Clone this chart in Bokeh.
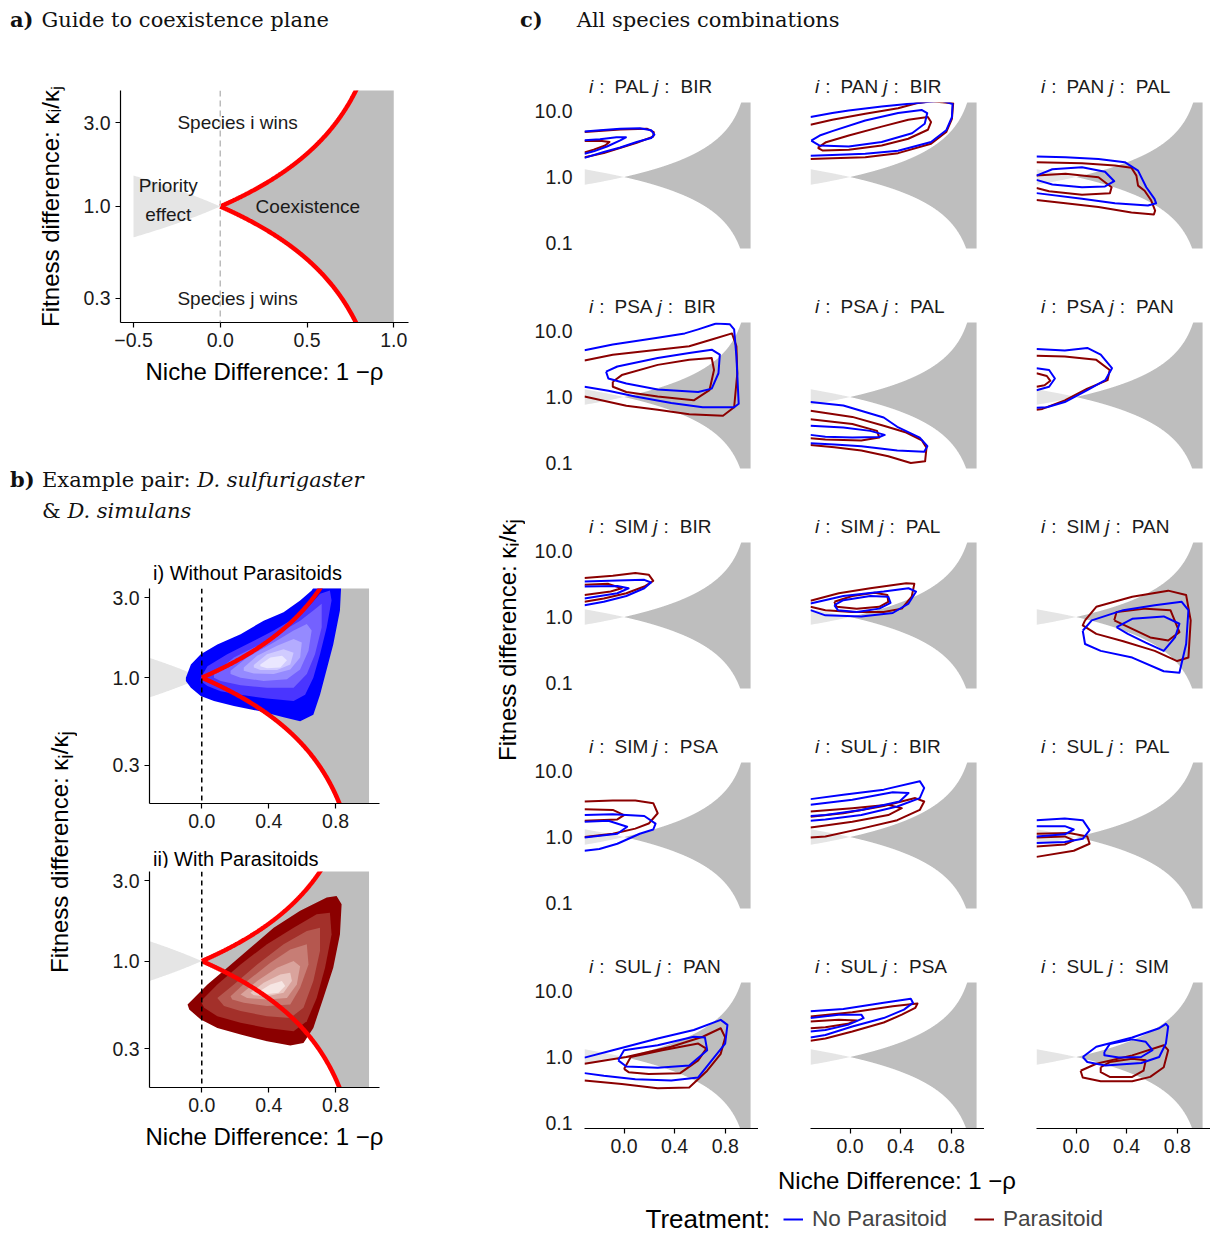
import numpy as np
from bokeh.plotting import figure
from bokeh.models import (Range1d, FixedTicker, CustomJSTickFormatter, Label, Div,
                          Legend, LegendItem, Span, Spacer)
from bokeh.layouts import row, column
from bokeh.core.properties import value
from bokeh.embed import file_html
from bokeh.resources import INLINE

SANS = "Liberation Sans"
TICK_FS = "19.5px"
AXT_FS = "24px"
BLUE = "#0000FF"
DRED = "#8B0000"
GREY = "#BEBEBE"
LIGHT = "#E5E5E5"

# ------------------------------------------------------------------ data
# theoretical coexistence boundary: rho < k_i/k_j < 1/rho with niche difference 1-rho
niche_grid = np.linspace(0.0, 1.0, 401)

# panel a annotations
GUIDE_LABELS = ["Species i wins", "Species j wins", "Priority", "effect", "Coexistence"]
GUIDE_X = [0.10, 0.10, -0.30, -0.30, 0.505]
GUIDE_Y = [3.0, 0.3, 1.31, 0.905, 1.0]

# panel b: density levels (outermost first), D. sulfurigaster vs D. simulans
BLUE_LEVELS_X = [
    [-0.095, -0.065, -0.006, 0.093, 0.232, 0.37, 0.489, 0.588, 0.657, 0.707, 0.836, 0.826, 0.786, 0.707, 0.667, 0.588, 0.489, 0.35, 0.192, 0.073, -0.006, -0.065, -0.095],
    [-0.006, 0.034, 0.152, 0.291, 0.43, 0.529, 0.628, 0.707, 0.766, 0.776, 0.747, 0.707, 0.667, 0.618, 0.549, 0.39, 0.232, 0.113, 0.034, -0.006],
    [0.073, 0.192, 0.35, 0.489, 0.588, 0.667, 0.717, 0.717, 0.677, 0.628, 0.549, 0.39, 0.232, 0.113, 0.073],
    [0.172, 0.271, 0.43, 0.549, 0.628, 0.657, 0.638, 0.588, 0.509, 0.37, 0.232, 0.172],
    [0.251, 0.331, 0.45, 0.549, 0.598, 0.588, 0.529, 0.43, 0.311, 0.251],
    [0.311, 0.39, 0.489, 0.549, 0.529, 0.45, 0.35, 0.311],
    [0.35, 0.41, 0.48, 0.509, 0.47, 0.39, 0.35],
]
BLUE_LEVELS_Y = [
    [1.0, 1.20, 1.38, 1.58, 1.82, 2.19, 2.46, 2.89, 3.32, 3.98, 3.98, 2.52, 1.58, 0.79, 0.60, 0.548, 0.58, 0.63, 0.676, 0.724, 0.776, 0.87, 0.955],
    [1.0, 1.17, 1.38, 1.62, 1.91, 2.19, 2.58, 3.17, 3.32, 2.89, 2.0, 1.38, 1.0, 0.79, 0.724, 0.75, 0.79, 0.83, 0.89, 0.955],
    [1.05, 1.32, 1.58, 1.91, 2.19, 2.52, 2.76, 2.0, 1.38, 1.05, 0.87, 0.87, 0.90, 0.955, 1.0],
    [1.10, 1.32, 1.62, 1.91, 2.09, 1.91, 1.45, 1.12, 0.977, 0.955, 1.0, 1.05],
    [1.15, 1.35, 1.55, 1.70, 1.62, 1.32, 1.12, 1.05, 1.06, 1.10],
    [1.19, 1.38, 1.48, 1.41, 1.20, 1.11, 1.11, 1.15],
    [1.20, 1.32, 1.35, 1.27, 1.15, 1.14, 1.17],
]
RED_LEVELS_X = [
    [-0.085, -0.046, 0.034, 0.152, 0.291, 0.43, 0.588, 0.747, 0.806, 0.836, 0.826, 0.786, 0.727, 0.667, 0.608, 0.529, 0.39, 0.232, 0.093, -0.006, -0.075, -0.085],
    [-0.006, 0.093, 0.232, 0.39, 0.549, 0.687, 0.766, 0.776, 0.737, 0.687, 0.628, 0.549, 0.39, 0.232, 0.093, 0.014, -0.006],
    [0.093, 0.192, 0.331, 0.489, 0.628, 0.707, 0.707, 0.667, 0.608, 0.529, 0.39, 0.232, 0.133, 0.093],
    [0.172, 0.271, 0.41, 0.529, 0.628, 0.638, 0.588, 0.529, 0.39, 0.251, 0.182, 0.172],
    [0.232, 0.331, 0.45, 0.549, 0.588, 0.568, 0.509, 0.39, 0.271, 0.232],
    [0.291, 0.37, 0.469, 0.529, 0.539, 0.489, 0.39, 0.311, 0.291],
    [0.331, 0.41, 0.479, 0.499, 0.459, 0.37, 0.331],
]
RED_LEVELS_Y = [
    [0.552, 0.604, 0.726, 0.912, 1.20, 1.58, 1.99, 2.39, 2.44, 2.18, 1.44, 0.912, 0.604, 0.40, 0.326, 0.315, 0.333, 0.366, 0.40, 0.449, 0.515, 0.552],
    [0.577, 0.726, 0.955, 1.26, 1.58, 1.90, 1.94, 1.44, 0.912, 0.604, 0.439, 0.383, 0.40, 0.429, 0.47, 0.527, 0.577],
    [0.604, 0.726, 0.955, 1.26, 1.51, 1.58, 1.15, 0.76, 0.527, 0.459, 0.47, 0.504, 0.54, 0.604],
    [0.618, 0.76, 0.977, 1.17, 1.26, 0.955, 0.693, 0.552, 0.54, 0.565, 0.59, 0.618],
    [0.632, 0.76, 0.912, 1.0, 0.933, 0.726, 0.604, 0.59, 0.604, 0.632],
    [0.647, 0.743, 0.832, 0.851, 0.76, 0.647, 0.618, 0.627, 0.647],
    [0.647, 0.726, 0.76, 0.71, 0.647, 0.632, 0.647],
]
BLUE_FILLS = ["#0000FF", "#4A35FF", "#7461FF", "#958AFF", "#B4ACFF", "#D0CBFF", "#EAE7FF"]
RED_FILLS = ["#8B0000", "#A3302A", "#B5574F", "#C77D75", "#D9A39C", "#E9C7C2", "#F6E6E3"]

# panel c: species pairs
PAIR_I = ["PAL", "PAN", "PAN", "PSA", "PSA", "PSA", "SIM", "SIM", "SIM", "SIM", "SUL", "SUL", "SUL", "SUL", "SUL"]
PAIR_J = ["BIR", "BIR", "PAL", "BIR", "PAL", "PAN", "BIR", "PAL", "PAN", "PSA", "BIR", "PAL", "PAN", "PSA", "SIM"]

# density contours (outer, inner) per pair: No Parasitoid (blue) and Parasitoid (red)
PAL_BIR_NOPAR = [([-0.3125, -0.19, -0.03, 0.125, 0.215, 0.24, 0.215, 0.10, -0.03, -0.16, -0.3125],
                  [4.9, 5.1, 5.4, 5.5, 5.1, 4.4, 3.9, 3.4, 2.8, 2.4, 1.95]),
                 ([-0.3125, -0.19, -0.06, 0.015, -0.03, -0.135, -0.24, -0.3125],
                  [3.6, 3.75, 4.0, 4.0, 3.6, 2.9, 2.45, 2.25])]
PAL_BIR_PAR = [([-0.3125, -0.03, 0.18, 0.235, 0.23, 0.10, -0.16, -0.3125],
                [4.8, 5.25, 5.4, 4.8, 4.1, 3.3, 2.3, 2.0]),
               ([-0.3125, -0.19, -0.115, -0.15, -0.24, -0.3125],
                [3.5, 3.55, 3.4, 3.0, 2.6, 2.35])]
PAN_BIR_NOPAR = [([-0.3125, -0.14, -0.01, 0.25, 0.51, 0.72, 0.81, 0.805, 0.76, 0.64, 0.38, 0.12, -0.14, -0.3125],
                  [8.1, 9.3, 10.2, 11.7, 13.1, 14.4, 12.8, 8.1, 5.1, 3.4, 2.5, 2.25, 2.15, 2.1]),
                 ([-0.307, -0.24, -0.14, 0.12, 0.38, 0.565, 0.61, 0.59, 0.49, 0.25, -0.01, -0.24, -0.307],
                  [3.55, 4.25, 4.95, 7.2, 9.3, 10.4, 9.3, 6.4, 4.6, 3.4, 2.9, 3.0, 3.55])]
PAN_BIR_PAR = [([-0.3125, -0.14, 0.12, 0.38, 0.525, 0.64, 0.815, 0.805, 0.76, 0.64, 0.38, 0.12, -0.14, -0.3125],
                [6.2, 7.35, 9.1, 11.0, 13.1, 14.1, 13.1, 7.6, 4.8, 3.2, 2.3, 2.0, 1.93, 1.88]),
               ([-0.255, -0.19, -0.01, 0.25, 0.46, 0.615, 0.64, 0.615, 0.46, 0.25, -0.01, -0.215, -0.255],
                [2.77, 3.37, 4.26, 5.8, 7.35, 8.1, 6.8, 5.2, 3.8, 3.0, 2.58, 2.52, 2.77])]
PAN_PAL_NOPAR = [([-0.3125, -0.083, 0.177, 0.385, 0.49, 0.555, 0.62, 0.633, 0.568, 0.307, 0.047, -0.3125],
                  [2.05, 2.0, 1.88, 1.68, 1.25, 0.70, 0.467, 0.40, 0.37, 0.40, 0.467, 0.57]),
                 ([-0.3125, -0.1875, 0.047, 0.229, 0.302, 0.229, 0.047, -0.1875, -0.3125],
                  [1.05, 1.31, 1.41, 1.20, 0.865, 0.72, 0.70, 0.77, 0.905])]
PAN_PAL_PAR = [([-0.3125, 0.047, 0.307, 0.4375, 0.477, 0.49, 0.542, 0.594, 0.625, 0.615, 0.4375, 0.177, -0.083, -0.3125],
                [1.68, 1.62, 1.49, 1.38, 1.05, 0.74, 0.62, 0.44, 0.31, 0.27, 0.29, 0.35, 0.40, 0.45]),
               ([-0.3125, -0.083, 0.177, 0.281, 0.268, 0.047, -0.213, -0.3125],
                [1.05, 1.12, 0.99, 0.70, 0.57, 0.54, 0.61, 0.68])]
PSA_BIR_NOPAR = [([-0.3125, -0.089, 0.266, 0.48, 0.586, 0.728, 0.835, 0.87, 0.888, 0.906, 0.87, 0.622, 0.373, 0.089, -0.124, -0.3125],
                  [5.1, 6.24, 7.89, 9.2, 10.6, 13.0, 12.7, 10.6, 4.12, 0.79, 0.70, 0.70, 0.81, 1.02, 1.24, 1.43]),
                 ([-0.142, -0.053, 0.266, 0.515, 0.693, 0.757, 0.746, 0.693, 0.586, 0.266, 0.018, -0.124, -0.142],
                  [2.43, 2.90, 3.89, 4.64, 5.22, 4.38, 2.29, 1.34, 1.19, 1.30, 1.60, 1.91, 2.43])]
PSA_BIR_PAR = [([-0.3125, -0.089, 0.266, 0.515, 0.693, 0.853, 0.888, 0.895, 0.87, 0.782, 0.515, 0.266, 0.018, -0.3125],
                [3.58, 4.38, 5.22, 5.88, 7.45, 9.2, 5.88, 2.29, 0.70, 0.52, 0.55, 0.64, 0.74, 1.02]),
               ([-0.089, -0.018, 0.266, 0.515, 0.693, 0.711, 0.675, 0.551, 0.266, 0.018, -0.089, -0.089],
                [1.70, 2.15, 3.07, 3.66, 3.89, 2.57, 1.27, 0.89, 1.02, 1.19, 1.43, 1.70])]
PSA_PAL_NOPAR = [([-0.3125, -0.053, 0.266, 0.373, 0.551, 0.611, 0.586, 0.373, 0.089, -0.124, -0.3125],
                  [0.84, 0.745, 0.49, 0.354, 0.243, 0.18, 0.148, 0.155, 0.18, 0.19, 0.20]),
                 ([-0.3125, -0.053, 0.16, 0.274, 0.231, 0.018, -0.195, -0.3125],
                  [0.367, 0.345, 0.307, 0.267, 0.248, 0.243, 0.251, 0.267])]
PSA_PAL_PAR = [([-0.3125, 0.018, 0.266, 0.444, 0.568, 0.604, 0.593, 0.48, 0.302, 0.089, -0.124, -0.3125],
                [0.62, 0.50, 0.367, 0.29, 0.22, 0.17, 0.106, 0.10, 0.127, 0.155, 0.174, 0.187]),
               ([-0.3125, 0.018, 0.213, 0.231, 0.089, -0.195, -0.3125],
                [0.46, 0.39, 0.307, 0.243, 0.22, 0.228, 0.237])]
PSA_PAN_NOPAR = [([-0.3125, -0.089, 0.089, 0.195, 0.284, 0.231, 0.089, -0.089, -0.231, -0.3125],
                  [5.35, 5.05, 5.54, 4.38, 2.73, 1.80, 1.27, 0.84, 0.70, 0.685]),
                 ([-0.3125, -0.213, -0.167, -0.213, -0.3125],
                  [2.73, 2.57, 1.91, 1.43, 1.27])]
PSA_PAN_PAR = [([-0.3125, -0.089, 0.16, 0.266, 0.249, 0.089, -0.089, -0.266, -0.3125],
                [4.23, 4.12, 3.66, 2.57, 1.80, 1.34, 0.89, 0.66, 0.64]),
               ([-0.3125, -0.231, -0.203, -0.249, -0.3125],
                [2.29, 2.08, 1.76, 1.51, 1.43])]
SIM_BIR_NOPAR = [([-0.3125, -0.053, 0.16, 0.213, 0.16, 0.018, -0.16, -0.3125],
                  [3.45, 3.58, 3.66, 3.33, 2.73, 2.08, 1.70, 1.51]),
                 ([-0.3125, -0.053, 0.036, -0.053, -0.3125],
                  [2.90, 2.96, 2.73, 2.29, 1.91])]
SIM_BIR_PAR = [([-0.3125, -0.089, 0.089, 0.195, 0.231, 0.16, 0.018, -0.16, -0.3125],
                [3.89, 4.23, 4.64, 4.38, 3.54, 2.90, 2.29, 1.91, 1.70]),
               ([-0.3125, -0.124, -0.018, -0.106, -0.3125],
                [3.07, 3.18, 2.73, 2.43, 2.15])]
SIM_PAL_NOPAR = [([-0.3125, -0.053, 0.266, 0.462, 0.522, 0.462, 0.337, 0.089, -0.195, -0.3125],
                  [1.60, 2.08, 2.43, 2.73, 2.43, 1.60, 1.15, 1.02, 1.06, 1.27]),
                 ([-0.124, -0.053, 0.16, 0.302, 0.32, 0.231, 0.053, -0.096, -0.124],
                  [1.51, 1.80, 2.08, 2.03, 1.64, 1.34, 1.19, 1.27, 1.51])]
SIM_PAL_PAR = [([-0.3125, -0.089, 0.16, 0.444, 0.508, 0.487, 0.409, 0.266, 0.018, -0.195, -0.3125],
                [1.76, 2.29, 2.73, 3.26, 3.18, 2.03, 1.34, 1.19, 1.19, 1.27, 1.43]),
               ([-0.124, 0.018, 0.195, 0.295, 0.302, 0.231, 0.053, -0.106, -0.124],
                [1.70, 2.08, 2.34, 2.15, 1.70, 1.43, 1.34, 1.43, 1.70])]
SIM_PAN_NOPAR = [([0.053, 0.124, 0.373, 0.622, 0.835, 0.888, 0.87, 0.817, 0.693, 0.444, 0.195, 0.071, 0.053],
                  [0.62, 0.89, 1.27, 1.51, 1.70, 1.27, 0.39, 0.143, 0.151, 0.243, 0.307, 0.39, 0.62]),
                 ([0.32, 0.444, 0.693, 0.817, 0.782, 0.693, 0.55, 0.409, 0.32],
                  [0.70, 0.94, 1.02, 0.79, 0.49, 0.307, 0.41, 0.555, 0.70])]
SIM_PAN_PAR = [([0.071, 0.16, 0.444, 0.728, 0.87, 0.906, 0.888, 0.799, 0.622, 0.373, 0.16, 0.053, 0.071],
                [0.89, 1.43, 2.03, 2.51, 2.15, 0.89, 0.243, 0.215, 0.307, 0.43, 0.555, 0.745, 0.89]),
               ([0.302, 0.32, 0.55, 0.746, 0.817, 0.728, 0.586, 0.444, 0.302],
                [0.89, 1.19, 1.34, 1.27, 0.59, 0.44, 0.49, 0.66, 0.89])]
SIM_PSA_NOPAR = [([-0.3125, -0.089, 0.16, 0.249, 0.231, 0.124, -0.053, -0.195, -0.3125],
                  [2.15, 2.21, 2.08, 1.60, 1.30, 1.12, 0.79, 0.66, 0.62]),
                 ([-0.3125, -0.124, 0.025, -0.053, -0.3125],
                  [1.70, 1.76, 1.43, 1.12, 0.98])]
SIM_PSA_PAR = [([-0.3125, -0.089, 0.089, 0.231, 0.266, 0.195, 0.089, -0.089, -0.3125],
                [3.45, 3.58, 3.58, 3.26, 2.29, 1.60, 1.34, 1.12, 1.0]),
               ([-0.3125, -0.089, 0.0, -0.053, -0.3125],
                [2.64, 2.57, 2.15, 1.85, 1.76])]
SUL_BIR_NOPAR = [([-0.3125, -0.053, 0.266, 0.551, 0.586, 0.551, 0.373, 0.089, -0.195, -0.3125],
                  [3.75, 4.38, 5.22, 7.02, 5.54, 3.89, 2.90, 2.15, 1.85, 1.76]),
                 ([-0.3125, 0.018, 0.337, 0.462, 0.391, 0.089, -0.195, -0.3125],
                  [3.07, 3.66, 4.75, 4.64, 3.45, 2.57, 2.15, 2.08])]
SUL_BIR_PAR = [([-0.3125, -0.053, 0.266, 0.515, 0.586, 0.551, 0.373, 0.089, -0.195, -0.3125],
                [2.03, 2.29, 2.96, 3.89, 3.45, 2.57, 1.80, 1.34, 1.02, 0.98]),
               ([-0.3125, 0.018, 0.302, 0.409, 0.302, 0.018, -0.266, -0.3125],
                [2.43, 2.73, 3.07, 2.73, 2.15, 1.70, 1.43, 1.39])]
SUL_PAL_NOPAR = [([-0.3125, -0.089, 0.053, 0.107, 0.053, -0.089, -0.3125],
                  [1.80, 1.91, 1.80, 1.27, 0.94, 0.84, 0.81]),
                 ([-0.3125, -0.089, -0.018, -0.089, -0.3125],
                  [1.46, 1.46, 1.30, 1.10, 1.02])]
SUL_PAL_PAR = [([-0.3125, -0.053, 0.089, 0.107, -0.018, -0.3125],
                [1.12, 1.15, 1.02, 0.79, 0.62, 0.50]),
               ([-0.3125, -0.089, -0.018, -0.089, -0.3125],
                [0.98, 1.02, 0.89, 0.77, 0.72])]
SUL_PAN_NOPAR = [([-0.3125, -0.089, 0.266, 0.551, 0.764, 0.817, 0.799, 0.693, 0.586, 0.373, 0.089, -0.16, -0.3125],
                  [0.98, 1.27, 1.91, 2.57, 3.66, 3.07, 1.60, 0.89, 0.49, 0.44, 0.46, 0.52, 0.57]),
                 ([-0.046, 0.0, 0.266, 0.551, 0.639, 0.657, 0.515, 0.266, 0.018, -0.046],
                  [0.89, 1.27, 1.51, 2.03, 1.98, 1.27, 0.745, 0.685, 0.72, 0.89])]
SUL_PAN_PAR = [([-0.3125, 0.018, 0.373, 0.622, 0.764, 0.799, 0.764, 0.657, 0.515, 0.266, -0.018, -0.3125],
                [0.79, 1.0, 1.43, 2.03, 2.73, 1.98, 1.12, 0.62, 0.345, 0.337, 0.39, 0.44]),
               ([0.0, 0.053, 0.302, 0.586, 0.65, 0.586, 0.444, 0.195, 0.036, 0.0],
                [0.66, 1.0, 1.27, 1.60, 1.34, 0.89, 0.57, 0.555, 0.59, 0.66])]
SUL_PSA_NOPAR = [([-0.3125, -0.053, 0.266, 0.48, 0.497, 0.426, 0.266, 0.018, -0.195, -0.3125],
                  [4.92, 5.35, 6.62, 7.62, 6.62, 5.22, 3.89, 2.90, 2.15, 1.98]),
                 ([-0.3125, -0.089, 0.089, 0.107, -0.018, -0.195, -0.3125],
                  [3.89, 4.38, 4.38, 3.89, 3.07, 2.57, 2.43])]
SUL_PSA_PAR = [([-0.3125, 0.018, 0.337, 0.533, 0.515, 0.409, 0.266, 0.018, -0.195, -0.3125],
                [4.12, 4.75, 5.88, 6.46, 5.54, 4.38, 3.33, 2.43, 1.91, 1.76]),
               ([-0.3125, -0.089, 0.053, -0.018, -0.195, -0.3125],
                [3.45, 3.66, 3.58, 3.18, 2.83, 2.73])]
SUL_SIM_NOPAR = [([0.053, 0.16, 0.444, 0.657, 0.71, 0.728, 0.71, 0.657, 0.515, 0.231, 0.089, 0.053],
                  [1.0, 1.43, 1.98, 2.73, 3.18, 2.90, 1.60, 1.0, 0.81, 0.745, 0.84, 1.0]),
                 ([0.224, 0.266, 0.444, 0.551, 0.604, 0.515, 0.337, 0.224, 0.224],
                  [1.19, 1.57, 1.85, 1.70, 1.27, 1.0, 0.98, 1.06, 1.19])]
SUL_SIM_PAR = [([0.036, 0.16, 0.444, 0.693, 0.728, 0.693, 0.586, 0.444, 0.195, 0.053, 0.036],
                [0.62, 0.79, 1.06, 1.51, 1.27, 0.70, 0.50, 0.43, 0.43, 0.49, 0.62]),
               ([0.195, 0.266, 0.444, 0.551, 0.533, 0.444, 0.266, 0.195, 0.195],
                [0.70, 0.84, 0.94, 0.89, 0.62, 0.50, 0.50, 0.59, 0.70])]

NOPAR = [PAL_BIR_NOPAR, PAN_BIR_NOPAR, PAN_PAL_NOPAR, PSA_BIR_NOPAR, PSA_PAL_NOPAR, PSA_PAN_NOPAR,
         SIM_BIR_NOPAR, SIM_PAL_NOPAR, SIM_PAN_NOPAR, SIM_PSA_NOPAR, SUL_BIR_NOPAR, SUL_PAL_NOPAR,
         SUL_PAN_NOPAR, SUL_PSA_NOPAR, SUL_SIM_NOPAR]
PAR = [PAL_BIR_PAR, PAN_BIR_PAR, PAN_PAL_PAR, PSA_BIR_PAR, PSA_PAL_PAR, PSA_PAN_PAR,
       SIM_BIR_PAR, SIM_PAL_PAR, SIM_PAN_PAR, SIM_PSA_PAR, SUL_BIR_PAR, SUL_PAL_PAR,
       SUL_PAN_PAR, SUL_PSA_PAR, SUL_SIM_PAR]

# tick positions
A_XTICKS = [-0.5, 0.0, 0.5, 1.0]
A_YTICKS = [0.3, 1.0, 3.0]
B_XTICKS = [0.0, 0.4, 0.8]
B_YTICKS = [0.3, 1.0, 3.0]
C_XTICKS = [0.0, 0.4, 0.8]
C_YTICKS = [0.1, 1.0, 10.0]

# ------------------------------------------------------------------ helpers
XR_BC = (-0.3125, 1.0625)
NONE4 = (0, 0, 0, 0)


def fmt1():
    return CustomJSTickFormatter(code="return tick.toFixed(1).replace('-', '\u2212');")


def style(p, ylabel_standoff=16, xlabel_standoff=8):
    p.outline_line_color = None
    p.grid.visible = False
    p.background_fill_color = "white"
    p.border_fill_color = "white"
    for ax in p.axis:
        ax.axis_line_color = "black"
        ax.axis_line_width = 1.2
        ax.major_tick_line_color = "black"
        ax.major_tick_line_width = 1.2
        ax.major_tick_out = 5
        ax.major_tick_in = 0
        ax.minor_tick_line_color = None
        ax.major_label_text_font = SANS
        ax.major_label_text_font_size = TICK_FS
        ax.major_label_text_color = "#1a1a1a"
        ax.axis_label_text_font = SANS
        ax.axis_label_text_font_size = AXT_FS
        ax.axis_label_text_font_style = "normal"
        ax.axis_label_text_color = "black"
        ax.formatter = fmt1()
    for ax in p.yaxis:
        ax.axis_label_standoff = ylabel_standoff
    for ax in p.xaxis:
        ax.axis_label_standoff = xlabel_standoff


def plane(p, x_left):
    up = np.minimum(1.0 / np.clip(1.0 - niche_grid, 1e-6, None), 1e4)
    lo = np.maximum(1.0 - niche_grid, 1e-4)
    pr_x = np.linspace(x_left, 0.0, 60)
    p.varea(x=pr_x, y1=1.0 / (1.0 - pr_x), y2=1.0 - pr_x, fill_color=LIGHT)
    p.varea(x=niche_grid, y1=lo, y2=up, fill_color=GREY)
    return up, lo


def red_bounds(p, up, lo):
    p.line(niche_grid, up, line_color="#FF0000", line_width=4.5)
    p.line(niche_grid, lo, line_color="#FF0000", line_width=4.5)


def html_div(html, w, h):
    return Div(text=html, width=w, height=h, margin=NONE4)


# ------------------------------------------------------------------ panel a
pa = figure(width=410, height=352, x_range=Range1d(-0.575, 1.085), y_range=Range1d(0.218, 4.58),
            y_axis_type="log", output_backend="svg", toolbar_location=None,
            min_border_left=112, min_border_right=10, min_border_top=42, min_border_bottom=78,
            margin=NONE4)
up, lo = plane(pa, -0.5)
red_bounds(pa, up, lo)
pa.add_layout(Span(location=0, dimension="height", line_color="#BBBBBB", line_dash="6 4", line_width=1.5))
pa.text(x=GUIDE_X, y=GUIDE_Y, text=GUIDE_LABELS, text_font=value(SANS), text_font_size=value("19px"),
        text_align="center", text_baseline="middle", text_color="#1a1a1a")
pa.xaxis.ticker = FixedTicker(ticks=A_XTICKS)
pa.yaxis.ticker = FixedTicker(ticks=A_YTICKS)
pa.xaxis.axis_label = "Niche Difference: 1 \u2212\u03c1"
pa.yaxis.axis_label = "Fitness difference: \u03ba\u1d62/\u03ba\u2c7c"
style(pa)

# ------------------------------------------------------------------ panel b


def make_b(levels_x, levels_y, fills, top, frame_h, bottom, xlabel):
    p = figure(width=311, height=top + frame_h + bottom, x_range=Range1d(*XR_BC),
               y_range=Range1d(0.177, 3.41), y_axis_type="log", output_backend="svg",
               toolbar_location=None, min_border_left=61, min_border_right=20,
               min_border_top=top, min_border_bottom=bottom, margin=NONE4)
    up, lo = plane(p, XR_BC[0])
    for xs, ys, fc in zip(levels_x, levels_y, fills):
        p.patch(xs, ys, fill_color=fc, line_color=None)
    red_bounds(p, up, lo)
    p.add_layout(Span(location=0, dimension="height", line_color="black", line_dash="5 4", line_width=1.5))
    p.xaxis.ticker = FixedTicker(ticks=B_XTICKS)
    p.yaxis.ticker = FixedTicker(ticks=B_YTICKS)
    if xlabel:
        p.xaxis.axis_label = "Niche Difference: 1 \u2212\u03c1"
    style(p)
    return p


def b_title(text, h, pad_top, lh):
    return html_div(("<div style=\"font-family:'Liberation Sans';font-size:20px;"
                     f"line-height:{lh}px;padding-top:{pad_top}px;padding-left:65px;"
                     f"white-space:nowrap;color:black;\">{text}</div>"), 311, h)


pb1 = make_b(BLUE_LEVELS_X, BLUE_LEVELS_Y, BLUE_FILLS, 4, 215, 36, False)
pb2 = make_b(RED_LEVELS_X, RED_LEVELS_Y, RED_FILLS, 4, 216, 78, True)
tb1 = b_title("i) Without Parasitoids", 44, 23, 20)
tb2 = b_title("ii) With Parasitoids", 28, 12, 16)

# ------------------------------------------------------------------ panel c
YR_C = (0.0826, 13.46)
FW_C, FH_C = 174, 146
YLAB_C_W = 20
STRIP_H, C_TOP = 24, 6


def strip_div(si, sj, w, pad):
    html = ("<div style=\"font-family:'Liberation Sans';font-size:19px;line-height:24px;"
            f"padding-top:3px;white-space:nowrap;padding-left:{pad}px;color:#1a1a1a;\">"
            "<i>i</i><span style=\"margin-left:6px\">:</span>"
            f"<span style=\"margin-left:10px\">{si}</span>"
            "<span style=\"margin-left:5px\"><i>j</i></span><span style=\"margin-left:6px\">:</span>"
            f"<span style=\"margin-left:11px\">{sj}</span></div>")
    return html_div(html, w, STRIP_H)


c_cells = []
for k, (si, sj) in enumerate(zip(PAIR_I, PAIR_J)):
    r, c = divmod(k, 3)
    lb = 86 - YLAB_C_W if c == 0 else 52
    bb = 36 if r == 4 else 44
    p = figure(width=lb + FW_C, height=C_TOP + FH_C + bb, x_range=Range1d(*XR_BC), y_range=Range1d(*YR_C),
               y_axis_type="log", output_backend="svg", toolbar_location=None,
               x_axis_location="below" if r == 4 else None, y_axis_location="left" if c == 0 else None,
               min_border_left=lb, min_border_right=0, min_border_top=C_TOP, min_border_bottom=bb,
               margin=NONE4)
    plane(p, XR_BC[0])
    for xs, ys in PAR[k]:
        p.line(xs, ys, line_color=DRED, line_width=2, line_join="round")
    for xs, ys in NOPAR[k]:
        p.line(xs, ys, line_color=BLUE, line_width=2, line_join="round")
    if r == 4:
        p.xaxis.ticker = FixedTicker(ticks=C_XTICKS)
    if c == 0:
        p.yaxis.ticker = FixedTicker(ticks=C_YTICKS)
    style(p)
    if c == 0:
        p.yaxis.axis_line_color = None
        p.yaxis.major_tick_line_color = None
        p.yaxis.major_tick_out = 0
        p.yaxis.major_label_standoff = 12
    c_cells.append(column(strip_div(si, sj, lb + FW_C, lb + 5), p, margin=NONE4))

grid_rows = [row(*c_cells[i:i + 3], margin=NONE4) for i in range(0, 15, 3)]
grid = column(*grid_rows, margin=NONE4)

# legend
LEG_W = 712
leg = figure(width=LEG_W, height=34, x_range=Range1d(0, LEG_W), y_range=Range1d(0, 34),
             output_backend="svg", toolbar_location=None, x_axis_location=None, y_axis_location=None,
             min_border=0, margin=NONE4)
leg.outline_line_color = None
leg.grid.visible = False
r_np = leg.line([-20, -10], [-20, -10], line_color=BLUE, line_width=2)
r_p = leg.line([-20, -10], [-20, -10], line_color=DRED, line_width=2)
leg.add_layout(Label(x=147, y=14, text="Treatment:", text_font=SANS, text_font_size="26px",
                     text_baseline="middle", text_color="black"))
leg.add_layout(Legend(items=[LegendItem(label="No Parasitoid", renderers=[r_np]),
                             LegendItem(label="Parasitoid", renderers=[r_p])],
                      orientation="horizontal", location=(285, 0), padding=0, margin=0, spacing=27,
                      label_standoff=9, glyph_width=20, glyph_height=24,
                      label_text_font=SANS, label_text_font_size="22.5px",
                      border_line_color=None, background_fill_alpha=0))

# ------------------------------------------------------------------ text blocks
div_a = html_div(("<div style=\"font-family:'DejaVu Serif';font-size:21px;line-height:24px;"
                  "white-space:nowrap;padding-left:2px;color:#111;\"><b>a)</b>"
                  "<span style=\"margin-left:8px\">Guide to coexistence plane</span></div>"), 490, 40)
div_b = html_div(("<div style=\"font-family:'DejaVu Serif';font-size:21px;line-height:31px;"
                  "white-space:nowrap;padding-left:2px;padding-top:64px;color:#111;\">"
                  "<b style=\"display:inline-block;width:32px\">b)</b>Example pair: <i>D. sulfurigaster</i><br>"
                  "<span style=\"display:inline-block;width:32px\"></span>&amp; <i>D. simulans</i></div>"),
                 490, 140)
div_c = html_div(("<div style=\"font-family:'DejaVu Serif';font-size:21px;line-height:24px;"
                  "white-space:nowrap;padding-left:22px;color:#111;\"><b>c)</b>"
                  "<span style=\"margin-left:34px\">All species combinations</span></div>"), LEG_W, 64)
ylab_b = html_div(("<div style=\"writing-mode:vertical-rl;transform:rotate(180deg);height:625px;"
                   "width:30px;margin-left:37px;text-align:center;font-family:'Liberation Sans';"
                   "font-size:24px;line-height:30px;white-space:nowrap;color:black;\">"
                   "Fitness difference: \u03ba<sub>i</sub>/\u03ba<sub>j</sub></div>"), 80, 625)
ylab_c = html_div(("<div style=\"writing-mode:vertical-rl;transform:rotate(180deg);height:1048px;"
                   f"margin-top:44px;width:{YLAB_C_W + 4}px;margin-left:-2px;text-align:center;"
                   "font-family:'Liberation Sans';font-size:24px;line-height:24px;white-space:nowrap;"
                   "color:black;\">Fitness difference: \u03ba<sub>i</sub>/\u03ba<sub>j</sub></div>"),
                  YLAB_C_W, 1092)
xlab_c = html_div(("<div style=\"font-family:'Liberation Sans';font-size:24px;line-height:34px;"
                   "text-align:center;width:626px;color:black;\">Niche Difference: 1 \u2212\u03c1</div>"),
                  626, 34)

left_col = column(div_a, pa, div_b,
                  row(ylab_b, column(tb1, pb1, tb2, pb2, margin=NONE4), margin=NONE4),
                  margin=NONE4)
right_col = column(div_c, row(ylab_c, grid, margin=NONE4),
                   row(Spacer(width=86, height=34, margin=NONE4), xlab_c, margin=NONE4),
                   leg, margin=NONE4)
layout = column(Spacer(width=1200, height=8, margin=NONE4),
                row(Spacer(width=8, height=10, margin=NONE4), left_col, right_col, margin=NONE4),
                margin=NONE4)

open("out.html", "w").write(file_html(layout, INLINE))
